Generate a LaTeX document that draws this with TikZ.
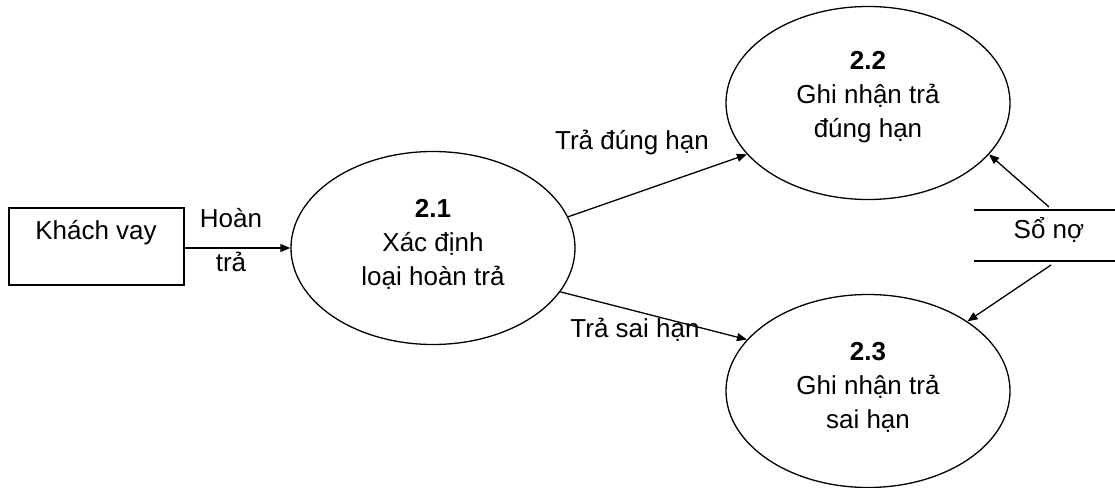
\documentclass[tikz,border=0pt]{standalone}
\usepackage{fontspec}
\setmainfont{Liberation Sans}
\usetikzlibrary{shapes.geometric,arrows.meta}
\begin{document}
\begin{tikzpicture}[x=1bp,y=-1bp,line width=1.3bp,
  every node/.style={font=\fontsize{26bp}{34bp}\selectfont},
  proc/.style={draw,ellipse,minimum width=284bp,minimum height=193bp,inner sep=0pt},
  ext/.style={draw,rectangle,minimum width=175bp,minimum height=77bp,inner sep=0pt},
  txt/.style={align=center,inner sep=0pt},
  flow/.style={-{Triangle[length=10bp,width=8bp]}}]
\useasboundingbox (0,0) rectangle (1115,488);
% external entity
\node[ext] (kv) at (96.5,246.5) {};
\node[txt] (kvt) at (96,233) {Khách vay};
% processes
\node[proc] (p21) at (433,248) {};
\node[txt] (t21) at (433,244) {\textbf{2.1}\\Xác định\\loại hoàn trả};
\node[proc] (p22) at (868,103) {};
\node[txt] (t22) at (868,97) {\textbf{2.2}\\Ghi nhận trả\\đúng hạn};
\node[proc] (p23) at (868,391) {};
\node[txt] (t23) at (868,387) {\textbf{2.3}\\Ghi nhận trả\\sai hạn};
% data store
\coordinate (sa1) at (974,210);
\coordinate (sa2) at (1115,210);
\coordinate (sb1) at (974,261);
\coordinate (sb2) at (1115,261);
\draw (sa1) -- (sa2);
\draw (sb1) -- (sb2);
\node[txt] (sn) at (1049,230) {Sổ nợ};
\coordinate (s1) at (1049,207);
\coordinate (s2) at (1051,265);
% flows
\draw[flow] (kv.east |- p21.west) -- (p21.west);
\node[txt] (l1) at (231,218) {Hoàn};
\node[txt] (l2) at (231,262) {trả};
\draw[flow] (p21.13) -- (p22.203);
\node[txt] (l3) at (632,143) {Trả đúng hạn};
\draw[flow] (p21.-19.5) -- (p23.157.6);
\node[txt] (l4) at (635,330) {Trả sai hạn};
\draw[flow] (s1) -- (p22.-23);
\draw[flow] (s2) -- (p23.35.6);
\end{tikzpicture}
\end{document}
